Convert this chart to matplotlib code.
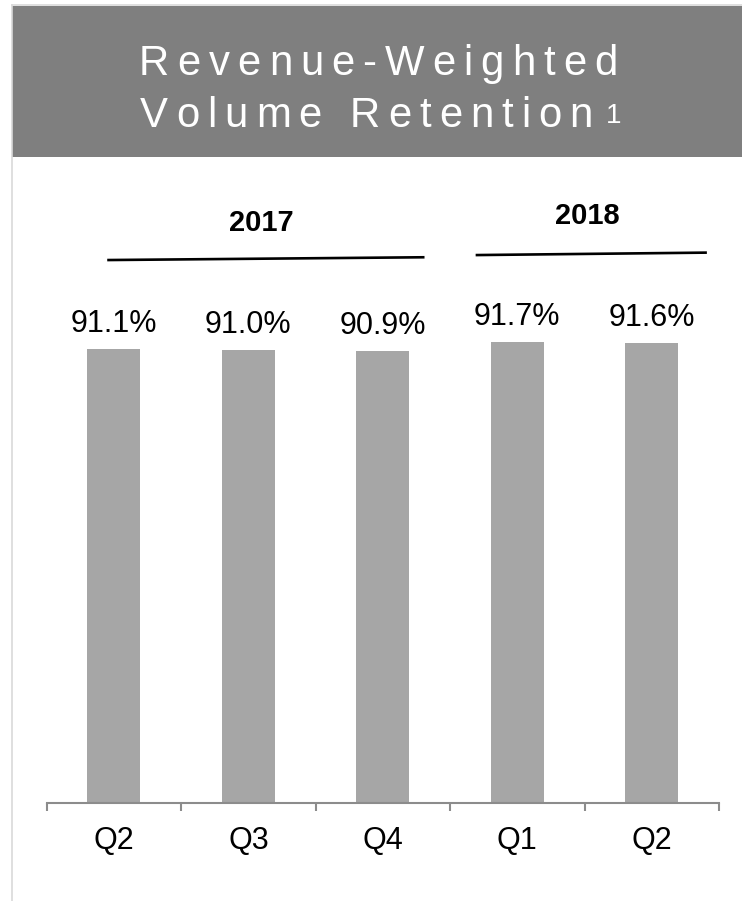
import numpy as np
import matplotlib.pyplot as plt
from matplotlib.patches import Rectangle
from matplotlib.lines import Line2D
from matplotlib.font_manager import FontProperties, findfont, get_font

# data
quarters = ['Q2', 'Q3', 'Q4', 'Q1', 'Q2']
retention = [91.1, 91.0, 90.9, 91.7, 91.6]
value_labels = ['91.1%', '91.0%', '90.9%', '91.7%', '91.6%']
years = ['2017', '2018']
title_lines = ['Revenue-Weighted', 'Volume Retention']
footnote = '1'

FONT = 'Liberation Sans'
W, H = 742, 901
fig = plt.figure(figsize=(W / 100, H / 100), dpi=100)


def fx(x):
    return x / W


def fy(y):
    return 1 - y / H


# light frame around the panel
fig.add_artist(Line2D([fx(12), fx(12)], [0, fy(5)], color='#d9d9d9', lw=1.2))
fig.add_artist(Line2D([fx(12), 1], [fy(5), fy(5)], color='#d9d9d9', lw=1.2))

# grey header band
fig.add_artist(Rectangle((fx(12.5), fy(157)), 1 - fx(12.5), (157 - 6) / H,
                         transform=fig.transFigure, color='#7f7f7f', lw=0))


def tracked(text, x, y, size, tracking, color='white'):
    # draw text char by char to get the wide letter spacing
    fp = FontProperties(family=FONT, size=size)
    font = get_font(findfont(fp))
    font.set_size(size, 100)
    for ch in text:
        fig.text(fx(x), fy(y), ch, fontproperties=fp, color=color,
                 ha='left', va='baseline')
        x += font.load_char(ord(ch)).linearHoriAdvance / 65536 + tracking
    return x


tracked(title_lines[0], 139, 75, 30.2, 8)
end = tracked(title_lines[1], 140, 126.7, 30.2, 8)
fig.text(fx(end + 5), fy(123), footnote, fontsize=20, family=FONT,
         color='white', ha='left', va='baseline')

# bar chart
ax = fig.add_axes([fx(46.7), 98.3 / H, 672.3 / W, 552.5 / H])
ax.patch.set_alpha(0)
x = np.arange(len(quarters))
ax.bar(x, retention, width=0.394, color='#a6a6a6')
ax.set_ylim(50, 100)
ax.set_xlim(-0.5, len(quarters) - 0.5)

for s in ['left', 'top', 'right']:
    ax.spines[s].set_visible(False)
ax.spines['bottom'].set_color('#8c8c8c')
ax.spines['bottom'].set_linewidth(1.5)
ax.set_yticks([])
ax.set_xticks(x, quarters, fontsize=22, family=FONT)
ax.tick_params(axis='x', which='major', length=0, pad=16.5)
ax.set_xticks(np.arange(-0.5, len(quarters)), minor=True)
ax.tick_params(axis='x', which='minor', length=6, width=1.5,
               color='#8c8c8c', direction='out')

for xi, v, lab in zip(x, retention, value_labels):
    ax.annotate(lab, (xi, v), xytext=(0, 12), textcoords='offset points',
                ha='center', va='baseline', fontsize=22, family=FONT)

# year brackets above the bars
ax.plot([-0.04, 2.30], [99.11, 99.36], color='black', lw=1.9, clip_on=False)
ax.plot([2.70, 4.40], [99.56, 99.78], color='black', lw=1.9, clip_on=False)
ax.text(1.094, 101.74, years[0], ha='center', va='baseline', fontsize=21,
        fontweight='bold', family=FONT, clip_on=False)
ax.text(3.522, 102.34, years[1], ha='center', va='baseline', fontsize=21,
        fontweight='bold', family=FONT, clip_on=False)

fig.savefig('out.png', dpi=100)
